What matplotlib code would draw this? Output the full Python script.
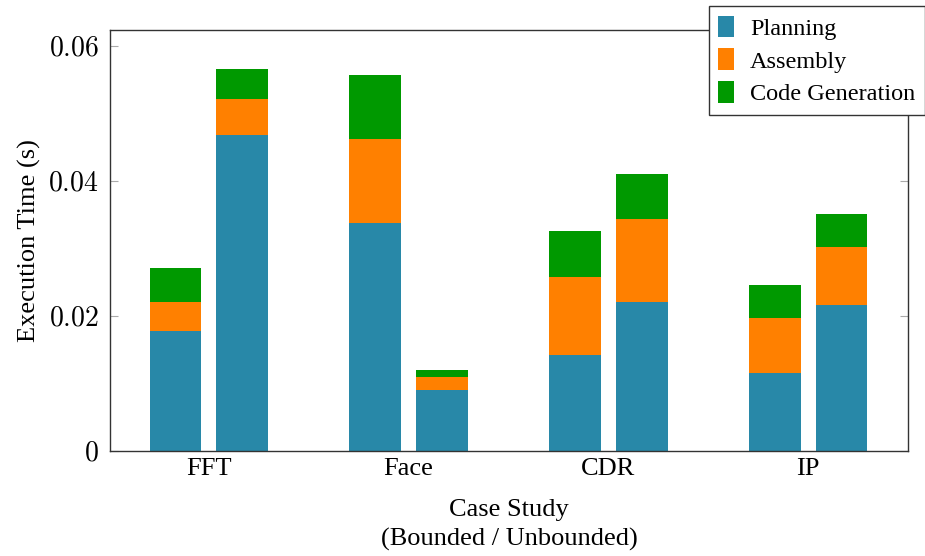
import numpy as np
import matplotlib.pyplot as plt

# ------ data --------
cases = ['FFT', 'Face', 'CDR', 'IP']
planning_bounded = [0.0178, 0.0338, 0.0142, 0.0116]
assembly_bounded = [0.0043, 0.0124, 0.0116, 0.0081]
codegen_bounded = [0.0050, 0.0095, 0.0068, 0.0049]
planning_unbounded = [0.0468, 0.0090, 0.0221, 0.0216]
assembly_unbounded = [0.0053, 0.0019, 0.0123, 0.0086]
codegen_unbounded = [0.0045, 0.0011, 0.0066, 0.0049]

stages = ['Planning', 'Assembly', 'Code Generation']
colors = ['#2888A8', '#FF8000', '#009900']
yticks = [0, 0.02, 0.04, 0.06]
ytick_labels = ['$0$', '$0.02$', '$0.04$', '$0.06$']

plt.rcParams['font.family'] = ['Liberation Serif', 'DejaVu Serif']
plt.rcParams['mathtext.fontset'] = 'cm'
plt.rcParams['font.size'] = 19

fig = plt.figure(figsize=(9.25, 5.56), dpi=100)
ax = fig.add_axes([110/925, 105/556, 798/925, 421/556])

x = np.arange(len(cases))
w = 0.26
off = 0.167

def stack(pos, parts, with_labels):
    bottom = np.zeros(len(pos))
    for vals, c, lab in zip(parts, colors, stages):
        ax.bar(pos, vals, w, bottom=bottom, color=c, linewidth=0,
               label=lab if with_labels else None)
        bottom = bottom + np.array(vals)

stack(x - off, [planning_bounded, assembly_bounded, codegen_bounded], True)
stack(x + off, [planning_unbounded, assembly_unbounded, codegen_unbounded], False)

ax.set_xlim(-0.495, 3.5)
ax.set_ylim(0, 0.06237)
ax.set_xticks(x)
ax.set_xticklabels(cases)
ax.set_yticks(yticks)
ax.set_yticklabels(ytick_labels, fontsize=20)
ax.tick_params(axis='x', length=0, pad=5)
ax.tick_params(axis='y', direction='in', length=6, color='#aaaaaa', right=True, pad=8)
for s in ax.spines.values():
    s.set_color('#333333')
    s.set_linewidth(1.0)

ax.set_xlabel('Case Study\n(Bounded / Unbounded)', labelpad=14, linespacing=1.35)
ax.set_ylabel('Execution Time (s)', labelpad=5)

handles, labels = ax.get_legend_handles_labels()
leg = fig.legend(handles, labels, loc='upper right',
                 bbox_to_anchor=(1.0, 1 - 6/556), bbox_transform=fig.transFigure,
                 fontsize=17.5, handlelength=0.65, handleheight=1.0, handletextpad=0.65,
                 labelspacing=0.35, borderpad=0.4, fancybox=False, framealpha=1,
                 edgecolor='#333333', borderaxespad=0)
leg.get_frame().set_linewidth(1.0)

fig.savefig('out.png', dpi=100)
